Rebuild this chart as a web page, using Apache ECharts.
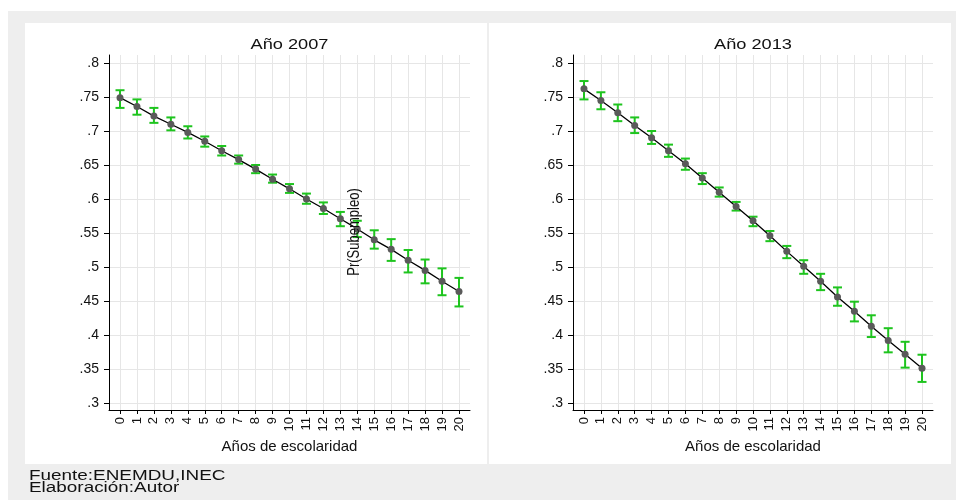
<!DOCTYPE html>
<html>
<head>
<meta charset="utf-8">
<script src="https://cdn.jsdelivr.net/npm/echarts@6/dist/echarts.min.js"></script>
<style>
html,body{margin:0;padding:0;background:#fff;}
#c{width:956px;height:504px;}
</style>
</head>
<body>
<div id="c"></div>
<script>
// ---- data ----
const years = [0,1,2,3,4,5,6,7,8,9,10,11,12,13,14,15,16,17,18,19,20];
const yTicks = [0.3,0.35,0.4,0.45,0.5,0.55,0.6,0.65,0.7,0.75,0.8];
const titles = ['Año 2007','Año 2013'];
const xTitle = 'Años de escolaridad';
const yTitle = 'Pr(Subempleo)';
const footer = ['Fuente:ENEMDU,INEC','Elaboración:Autor'];

const pr2007 = [0.749,0.736,0.722,0.710,0.698,0.685,0.671,0.658,0.644,0.629,0.615,0.600,0.586,0.571,0.556,0.540,0.526,0.510,0.495,0.479,0.464];
const lo2007 = [0.734,0.724,0.712,0.701,0.689,0.677,0.664,0.652,0.638,0.624,0.609,0.593,0.578,0.560,0.544,0.527,0.509,0.492,0.476,0.4585,0.442];
const hi2007 = [0.760,0.7465,0.734,0.720,0.707,0.692,0.678,0.664,0.650,0.636,0.622,0.608,0.595,0.581,0.568,0.554,0.541,0.525,0.511,0.498,0.484];

const pr2013 = [0.762,0.745,0.727,0.708,0.690,0.671,0.652,0.631,0.610,0.589,0.568,0.546,0.523,0.501,0.479,0.456,0.435,0.413,0.392,0.3716,0.351];
const lo2013 = [0.7465,0.732,0.7145,0.697,0.681,0.662,0.643,0.622,0.6035,0.583,0.560,0.538,0.513,0.490,0.466,0.443,0.420,0.397,0.3745,0.352,0.331];
const hi2013 = [0.7735,0.757,0.739,0.720,0.700,0.680,0.6595,0.638,0.617,0.5957,0.574,0.553,0.531,0.510,0.490,0.470,0.449,0.429,0.410,0.390,0.371];

// ---- chart ----
const FONT = '"Liberation Sans", Arial, sans-serif';
const GREEN = '#1ec41e';
const GRID = '#e6e6e6';

function fmtY(v){ return v.toFixed(2).replace(/0$/,'').replace(/^0/,''); }

function xAxis(i){
  return {
    type:'value', gridIndex:i, min:-0.65, max:20.65,
    name: xTitle, nameLocation:'middle', nameGap:26,
    nameTextStyle:{fontFamily:FONT,fontSize:15,color:'#111',verticalAlign:'top'},
    axisLine:{show:true,onZero:false,lineStyle:{color:'#000',width:1}},
    axisTick:{show:true,length:4,customValues:years,lineStyle:{color:'#000'}},
    axisLabel:{customValues:years,rotate:90,margin:7,fontFamily:FONT,fontSize:13,color:'#111'},
    splitLine:{show:true,lineStyle:{color:GRID,width:1}}
  };
}
function yAxis(i){
  return {
    type:'value', gridIndex:i, min:0.2897, max:0.8118,
    axisLine:{show:true,onZero:false,lineStyle:{color:'#000',width:1}},
    axisTick:{show:true,length:5,customValues:yTicks,lineStyle:{color:'#000'}},
    axisLabel:{customValues:yTicks,formatter:fmtY,margin:10,fontFamily:FONT,fontSize:14,color:'#111'},
    splitLine:{show:true,lineStyle:{color:GRID,width:1}}
  };
}
function ciSeries(i, lo, hi){
  return {
    type:'custom', xAxisIndex:i, yAxisIndex:i, z:2,
    data: years.map((x,k)=>[x, lo[k], hi[k]]),
    renderItem:function(params, api){
      const x = api.value(0);
      const p1 = api.coord([x, api.value(1)]);
      const p2 = api.coord([x, api.value(2)]);
      const w = 4.5;
      const st = {stroke:GREEN, lineWidth:2};
      return {type:'group', children:[
        {type:'line', shape:{x1:p1[0],y1:p1[1],x2:p2[0],y2:p2[1]}, style:st},
        {type:'line', shape:{x1:p1[0]-w,y1:p1[1],x2:p1[0]+w,y2:p1[1]}, style:st},
        {type:'line', shape:{x1:p2[0]-w,y1:p2[1],x2:p2[0]+w,y2:p2[1]}, style:st}
      ]};
    },
    silent:true
  };
}
function lineSeries(i, vals){
  return {
    type:'line', xAxisIndex:i, yAxisIndex:i, z:3,
    data: years.map((x,k)=>[x, vals[k]]),
    symbol:'circle', symbolSize:7,
    itemStyle:{color:'#5a5a5a'},
    lineStyle:{color:'#000',width:1.3},
    animation:false, silent:true
  };
}

const chart = echarts.init(document.getElementById('c'), null, {renderer:'canvas'});
chart.setOption({
  animation:false,
  backgroundColor:'#ffffff',
  grid:[
    {left:109, right:486, top:55, bottom:94},
    {left:573, right:23, top:55, bottom:94}
  ],
  xAxis:[xAxis(0), xAxis(1)],
  yAxis:[yAxis(0), yAxis(1)],
  series:[
    ciSeries(0, lo2007, hi2007), lineSeries(0, pr2007),
    ciSeries(1, lo2013, hi2013), lineSeries(1, pr2013)
  ],
  graphic:{elements:[
    {type:'rect', z:-100, shape:{x:8,y:11,width:948,height:489}, style:{fill:'#eeeeee'}},
    {type:'rect', z:-99, shape:{x:25,y:23,width:462,height:441}, style:{fill:'#ffffff'}},
    {type:'rect', z:-99, shape:{x:489,y:23,width:462,height:441}, style:{fill:'#ffffff'}},
    {type:'text', z:100, x:289.5, y:45, scaleX:1.3, style:{text:titles[0], font:'14px '+FONT, fill:'#111', textAlign:'center', textVerticalAlign:'middle'}},
    {type:'text', z:100, x:753, y:45, scaleX:1.3, style:{text:titles[1], font:'14px '+FONT, fill:'#111', textAlign:'center', textVerticalAlign:'middle'}},
    {type:'text', z:100, x:355, y:232, rotation:Math.PI/2, scaleY:1.25, style:{text:yTitle, font:'13px '+FONT, fill:'#111', textAlign:'center', textVerticalAlign:'middle'}},
    {type:'text', z:100, x:29, y:476, scaleX:1.35, style:{text:footer[0], font:'14px '+FONT, fill:'#111', textAlign:'left', textVerticalAlign:'middle'}},
    {type:'text', z:100, x:29, y:488, scaleX:1.35, style:{text:footer[1], font:'14px '+FONT, fill:'#111', textAlign:'left', textVerticalAlign:'middle'}}
  ]}
});
</script>
</body>
</html>
